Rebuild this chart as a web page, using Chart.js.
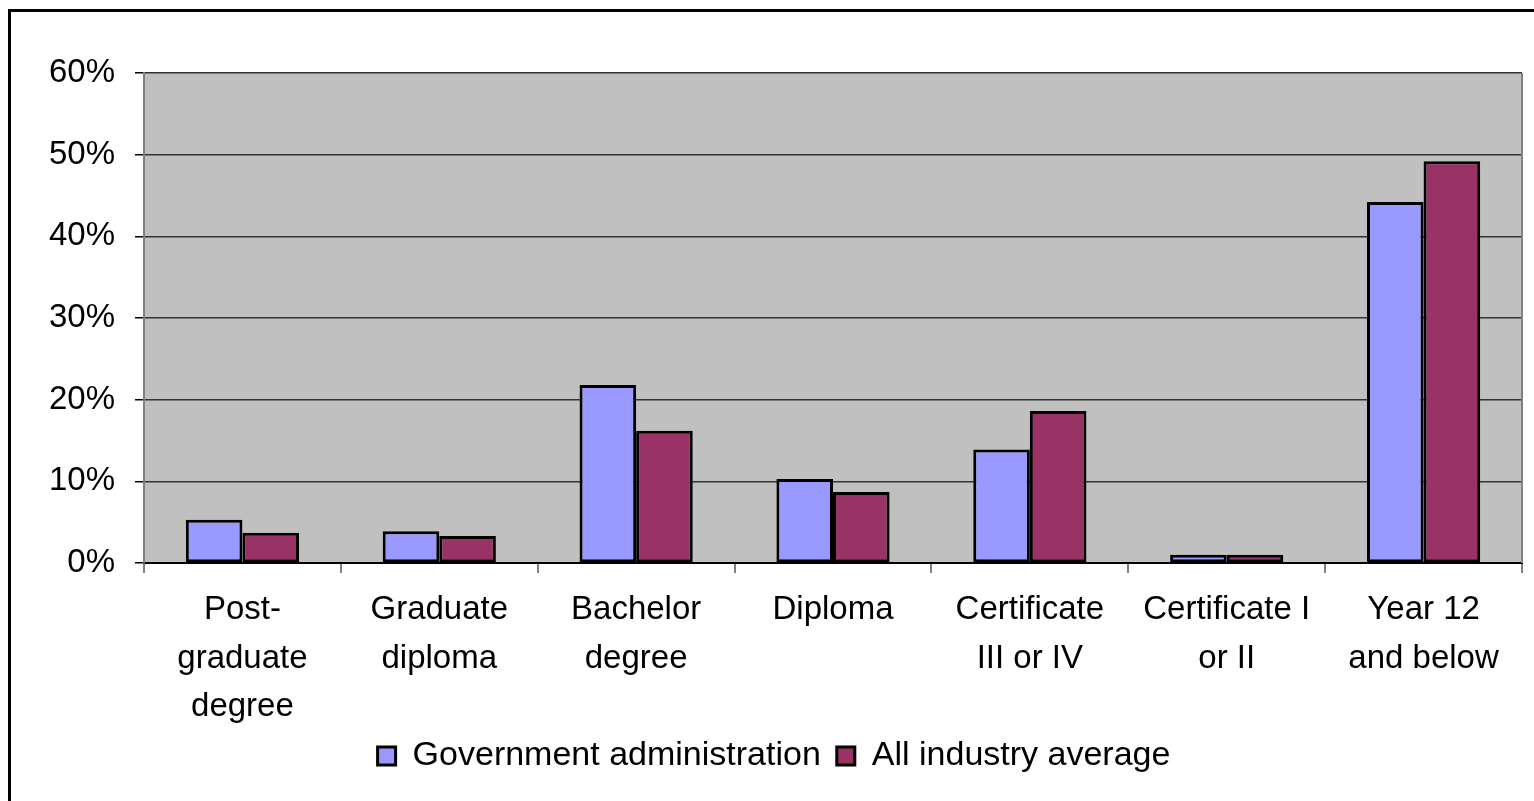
<!DOCTYPE html>
<html><head><meta charset="utf-8">
<script src="https://cdn.jsdelivr.net/npm/chart.js@4/dist/chart.umd.min.js"></script>
<style>html,body{margin:0;padding:0;background:#fff;overflow:hidden}#wrap{position:absolute;left:0;top:0;width:1534px;height:801px}</style>
</head><body><div id="wrap"><canvas id="c" width="1534" height="801"></canvas></div>
<script>
const categories = [["Post-","graduate","degree"],["Graduate","diploma"],["Bachelor","degree"],["Diploma"],["Certificate","III or IV"],["Certificate I","or II"],["Year 12","and below"]];
const govAdmin = [5.3, 3.9, 21.8, 10.3, 13.9, 1.0, 44.2];
const allIndustry = [3.7, 3.3, 16.2, 8.7, 18.6, 1.0, 49.2];
const yTicks = [0, 10, 20, 30, 40, 50, 60];
const seriesNames = ["Government administration", "All industry average"];

const FONT = "'Liberation Sans', Arial, sans-serif";
const bgPlugin = {
  id: 'bg',
  afterLayout(chart) {
    if (chart.legend) { chart.legend.left += 13; chart.legend.right += 13; }
  },
  beforeDraw(chart) {
    const {ctx, chartArea: a} = chart;
    ctx.save();
    ctx.fillStyle = '#C0C0C0';
    ctx.fillRect(a.left, a.top, a.right - a.left, a.bottom - a.top);
    ctx.restore();
  },
  afterDraw(chart) {
    const {ctx, chartArea: a} = chart;
    ctx.save();
    ctx.strokeStyle = '#808080';
    ctx.lineWidth = 2;
    ctx.beginPath();
    ctx.moveTo(a.right, a.top); ctx.lineTo(a.right, a.bottom);
    ctx.stroke();
    ctx.strokeStyle = '#000';
    ctx.lineWidth = 3;
    ctx.strokeRect(9.5, 10.5, 1700, 900);
    ctx.restore();
  }
};

new Chart(document.getElementById('c'), {
  type: 'bar',
  data: {
    labels: categories,
    datasets: [
      {label: seriesNames[0], data: govAdmin, backgroundColor: '#9999FF', borderColor: '#000', borderWidth: 3, borderSkipped: false},
      {label: seriesNames[1], data: allIndustry, backgroundColor: '#993366', borderColor: '#000', borderWidth: 3, borderSkipped: false}
    ]
  },
  options: {
    responsive: false,
    animation: false,
    devicePixelRatio: 1,
    layout: {padding: {left: 0, right: 12, top: 73, bottom: 18}},
    datasets: {bar: {categoryPercentage: 0.575, barPercentage: 1.0}},
    plugins: {
      legend: {
        position: 'bottom',
        labels: {
          font: {family: FONT, size: 34},
          color: '#000',
          boxWidth: 18, boxHeight: 18, padding: 16,
          generateLabels(chart) {
            return chart.data.datasets.map((d, i) => ({
              text: d.label, fillStyle: d.backgroundColor, strokeStyle: '#000', lineWidth: 3, datasetIndex: i, hidden: false
            }));
          }
        }
      },
      tooltip: {enabled: false}
    },
    scales: {
      x: {
        afterFit(s) { s.height = 160; },
        grid: {offset: true, drawOnChartArea: false, drawTicks: true, tickLength: 10, color: '#808080', lineWidth: 2},
        border: {color: '#000', width: 2},
        ticks: {font: {family: FONT, size: 33, lineHeight: 1.47}, color: '#000', padding: 13, maxRotation: 0, autoSkip: false}
      },
      y: {
        min: 0, max: 60,
        afterFit(s) { s.width = 144; },
        afterBuildTicks(s) { s.ticks = yTicks.map(v => ({value: v})); },
        grid: {color: '#333', lineWidth: 1.5, tickLength: 9, tickColor: '#000'},
        border: {color: '#808080', width: 2},
        ticks: {font: {family: FONT, size: 33}, color: '#000', padding: 20, callback: v => v + '%'}
      }
    }
  },
  plugins: [bgPlugin]
});
</script></body></html>
